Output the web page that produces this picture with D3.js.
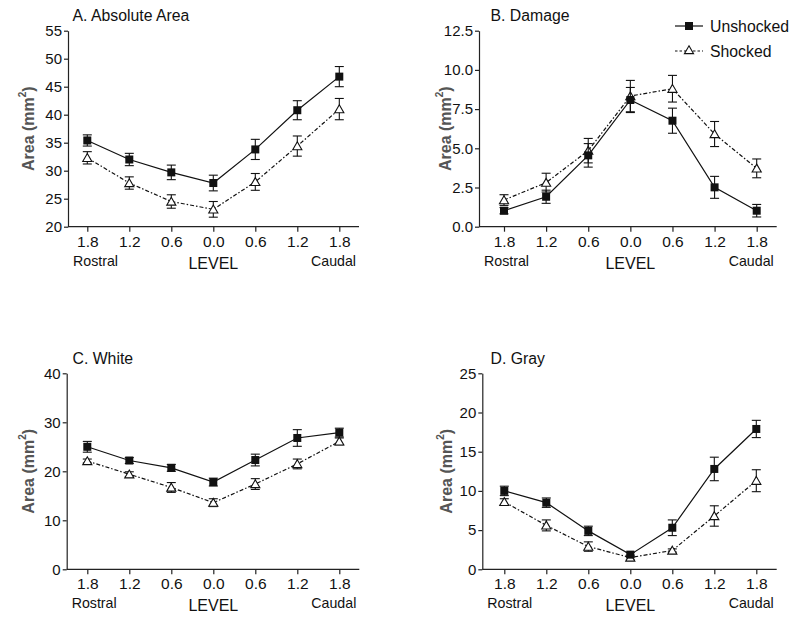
<!DOCTYPE html>
<html>
<head>
<meta charset="utf-8">
<script src="https://cdn.jsdelivr.net/npm/d3@7"></script>
<style>
  body { margin: 0; background: #fff; }
</style>
</head>
<body>
<div id="chart"></div>
<script>
const W = 800, H = 631
const FONT = '"Liberation Sans", Arial, sans-serif'

// level labels along the cord, rostral -> caudal
const levels = ['1.8', '1.2', '0.6', '0.0', '0.6', '1.2', '1.8']

const absUnshocked = [35.4, 32.0, 29.7, 27.8, 33.8, 40.8, 46.8]
const absUnshockedErr = [1.0, 1.1, 1.3, 1.4, 1.8, 1.7, 1.8]
const absShocked = [32.3, 27.8, 24.5, 23.1, 28.0, 34.4, 41.0]
const absShockedErr = [1.1, 1.1, 1.2, 1.4, 1.5, 1.8, 1.9]

const dmgUnshocked = [1.02, 1.91, 4.55, 8.08, 6.76, 2.51, 1.02]
const dmgUnshockedErr = [0.2, 0.42, 0.75, 0.8, 0.8, 0.7, 0.4]
const dmgShocked = [1.70, 2.81, 4.85, 8.33, 8.80, 5.91, 3.72]
const dmgShockedErr = [0.34, 0.6, 0.78, 1.0, 0.85, 0.8, 0.6]

const whiteUnshocked = [25.0, 22.2, 20.7, 17.8, 22.3, 26.8, 27.9]
const whiteUnshockedErr = [1.1, 0.6, 0.7, 0.8, 1.2, 1.7, 0.9]
const whiteShocked = [22.1, 19.4, 16.7, 13.6, 17.4, 21.5, 26.1]
const whiteShockedErr = [0.4, 0.5, 1.0, 0.8, 1.1, 1.0, 0.7]

const grayUnshocked = [10.0, 8.5, 4.9, 1.87, 5.3, 12.8, 17.9]
const grayUnshockedErr = [0.6, 0.6, 0.6, 0.3, 1.0, 1.5, 1.1]
const grayShocked = [8.6, 5.6, 2.9, 1.5, 2.4, 6.8, 11.3]
const grayShockedErr = [0.4, 0.7, 0.6, 0.3, 0.2, 1.3, 1.4]

const panels = [
  { title: 'A. Absolute Area', titleX: 72.5, left: 68, right: 359, top: 30.7, bottom: 226.7, px: [87.3, 339.3],
    yDomain: [20, 55], yTicks: d3.range(20, 56, 5), fmt: d3.format('d'), labelOff: 40,
    un: absUnshocked, unErr: absUnshockedErr, sh: absShocked, shErr: absShockedErr },
  { title: 'B. Damage', titleX: 490.5, left: 479, right: 776.7, top: 30.7, bottom: 226.7, px: [504, 756.7],
    yDomain: [0, 12.5], yTicks: d3.range(0, 12.6, 2.5), fmt: d3.format('.1f'), labelOff: 34, legend: true,
    un: dmgUnshocked, unErr: dmgUnshockedErr, sh: dmgShocked, shErr: dmgShockedErr },
  { title: 'C. White', titleX: 72.5, left: 66.7, right: 359.3, top: 373.3, bottom: 569.3, px: [87.3, 339.3],
    yDomain: [0, 40], yTicks: d3.range(0, 41, 10), fmt: d3.format('d'), labelOff: 39,
    un: whiteUnshocked, unErr: whiteUnshockedErr, sh: whiteShocked, shErr: whiteShockedErr },
  { title: 'D. Gray', titleX: 490.5, left: 482.3, right: 776.7, top: 373.3, bottom: 569.3, px: [504.3, 756.3],
    yDomain: [0, 25], yTicks: d3.range(0, 26, 5), fmt: d3.format('d'), labelOff: 36,
    un: grayUnshocked, unErr: grayUnshockedErr, sh: grayShocked, shErr: grayShockedErr }
]

const svg = d3.select('#chart').append('svg')
  .attr('width', W)
  .attr('height', H)
  .attr('font-family', FONT)

const triangle = d3.symbol().type(d3.symbolTriangle).size(36)

function drawSeries(g, x, y, vals, errs, shocked) {
  const pts = vals.map((v, i) => ({ i, v, e: errs[i] }))

  g.append('path')
    .datum(pts)
    .attr('fill', 'none')
    .attr('stroke', '#111')
    .attr('stroke-width', 1.2)
    .attr('stroke-dasharray', shocked ? '4,2,1.5,2' : null)
    .attr('d', d3.line().x(d => x(d.i)).y(d => y(d.v)))

  const eb = g.selectAll(null).data(pts).enter().append('g')
    .attr('stroke', '#111')
    .attr('stroke-width', 1.1)
  eb.append('line')
    .attr('x1', d => x(d.i)).attr('x2', d => x(d.i))
    .attr('y1', d => y(d.v - d.e)).attr('y2', d => y(d.v + d.e))
  eb.append('line')
    .attr('x1', d => x(d.i) - 4.5).attr('x2', d => x(d.i) + 4.5)
    .attr('y1', d => y(d.v + d.e)).attr('y2', d => y(d.v + d.e))
  eb.append('line')
    .attr('x1', d => x(d.i) - 4.5).attr('x2', d => x(d.i) + 4.5)
    .attr('y1', d => y(d.v - d.e)).attr('y2', d => y(d.v - d.e))

  if (shocked) {
    g.selectAll(null).data(pts).enter().append('path')
      .attr('d', triangle)
      .attr('transform', d => `translate(${x(d.i)},${y(d.v) + 1})`)
      .attr('fill', '#fff')
      .attr('stroke', '#111')
      .attr('stroke-width', 1.1)
  } else {
    g.selectAll(null).data(pts).enter().append('rect')
      .attr('x', d => x(d.i) - 4)
      .attr('y', d => y(d.v) - 4)
      .attr('width', 8)
      .attr('height', 8)
      .attr('fill', '#111')
  }
}

panels.forEach(p => {
  const g = svg.append('g')

  const x = d3.scalePoint()
    .domain(d3.range(levels.length))
    .range(p.px)

  const y = d3.scaleLinear()
    .domain(p.yDomain)
    .range([p.bottom, p.top])

  // y axis
  const yAxis = g.append('g')
    .attr('transform', `translate(${p.left},0)`)
    .call(d3.axisLeft(y).tickValues(p.yTicks).tickFormat(p.fmt).tickSize(4).tickPadding(2).tickSizeOuter(0))
  yAxis.attr('font-family', FONT).attr('font-size', 15)
  yAxis.select('.domain').attr('stroke', '#222').attr('stroke-width', 1.2)
  yAxis.selectAll('.tick line').attr('stroke', '#222').attr('stroke-width', 1.2)
  yAxis.selectAll('.tick text').attr('fill', '#111')

  // x axis
  const xAxis = g.append('g')
    .attr('transform', `translate(0,${p.bottom})`)
    .call(d3.axisBottom(x).tickFormat(i => levels[i]).tickSize(5).tickPadding(4).tickSizeOuter(0))
  xAxis.attr('font-family', FONT).attr('font-size', 15.5)
  xAxis.select('.domain').attr('d', `M${p.left},0H${p.right}`).attr('stroke', '#222').attr('stroke-width', 1.2)
  xAxis.selectAll('.tick line').attr('stroke', '#222').attr('stroke-width', 1.2)
  xAxis.selectAll('.tick text').attr('fill', '#111')

  g.append('text')
    .attr('x', p.titleX)
    .attr('y', p.top - 9.5)
    .attr('font-size', 15.8)
    .attr('fill', '#111')
    .text(p.title)

  g.append('text')
    .attr('x', p.left + 5)
    .attr('y', p.bottom + 39)
    .attr('font-size', 14.2)
    .attr('fill', '#111')
    .text('Rostral')

  g.append('text')
    .attr('x', p.right - 3)
    .attr('y', p.bottom + 39)
    .attr('text-anchor', 'end')
    .attr('font-size', 14.2)
    .attr('fill', '#111')
    .text('Caudal')

  g.append('text')
    .attr('x', x(3))
    .attr('y', p.bottom + 42)
    .attr('text-anchor', 'middle')
    .attr('font-size', 16)
    .attr('fill', '#111')
    .text('LEVEL')

  const yl = g.append('text')
    .attr('transform', `translate(${p.left - p.labelOff},${(p.top + p.bottom) / 2}) rotate(-90)`)
    .attr('text-anchor', 'middle')
    .attr('dominant-baseline', 'central')
    .attr('font-size', 16)
    .attr('font-weight', 'bold')
    .attr('fill', '#555')
  yl.append('tspan').text('Area (mm')
  yl.append('tspan').attr('baseline-shift', 'super').attr('font-size', 10).text('2')
  yl.append('tspan').text(')')

  drawSeries(g, x, y, p.sh, p.shErr, true)
  drawSeries(g, x, y, p.un, p.unErr, false)

  if (p.legend) {
    const items = [['Unshocked', false], ['Shocked', true]]
    const lg = g.append('g')
    items.forEach(([name, shocked], k) => {
      const cy = 26 + k * 25
      lg.append('line')
        .attr('x1', 675).attr('x2', 703)
        .attr('y1', cy).attr('y2', cy)
        .attr('stroke', '#111')
        .attr('stroke-width', 1.2)
        .attr('stroke-dasharray', shocked ? '2.5,2' : null)
      if (shocked) {
        lg.append('path').attr('d', triangle)
          .attr('transform', `translate(689,${cy})`)
          .attr('fill', '#fff').attr('stroke', '#111').attr('stroke-width', 1.1)
      } else {
        lg.append('rect').attr('x', 685).attr('y', cy - 4).attr('width', 8).attr('height', 8).attr('fill', '#111')
      }
      lg.append('text')
        .attr('x', 710)
        .attr('y', cy + 5.5)
        .attr('font-size', 15.8)
        .attr('fill', '#111')
        .text(name)
    })
  }
})
</script>
</body>
</html>
